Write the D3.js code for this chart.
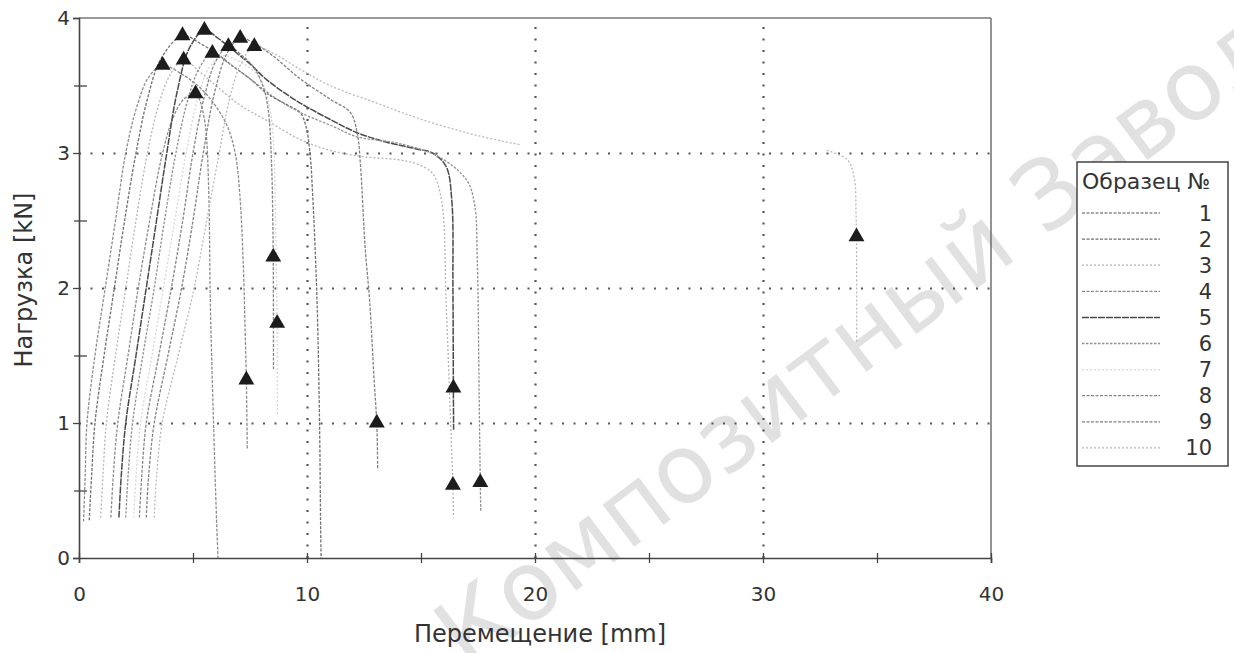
<!DOCTYPE html>
<html>
<head>
<meta charset="utf-8">
<script src="https://cdn.jsdelivr.net/npm/d3@7"></script>
<style>
  body { margin: 0; background: #fff; }
  text { font-family: "DejaVu Sans", Verdana, sans-serif; fill: #333; }
</style>
</head>
<body>
<div class="chart"></div>
<script>
// load vs displacement, 10 specimens

const width = 1234
const height = 653

// [displacement mm, load kN], null = gap in the record
const s1 = [[0.2,0.27],[0.27,0.6],[0.35,1.0],[0.7,1.5],[1.15,2.0],[1.6,2.5],[2.05,3.0],[2.55,3.35],[3.05,3.56],[3.67,3.65],
  [4.45,3.59],[5.2,3.5],[5.9,3.37],[6.5,3.2],[6.85,3.0],[7.05,2.7],[7.2,2.2],[7.3,1.6],[7.34,1.32],[7.38,0.8]]
const s2 = [[0.45,0.28],[0.55,0.6],[0.7,1.0],[1.1,1.5],[1.55,2.0],[2.0,2.5],[2.5,3.0],[3.0,3.4],[3.6,3.7],[4.54,3.87],
  [5.33,3.81],[6.1,3.73],[6.77,3.64],[7.5,3.55],[8.25,3.44],[9.2,3.35],[9.7,3.3],[9.95,3.2],[10.13,3.0],[10.26,2.65],[10.44,1.9],[10.55,1.0],[10.6,0.2],[10.62,0]]
const s3 = [[0.95,0.3],[1.05,0.6],[1.2,1.0],[1.6,1.5],[2.05,2.0],[2.5,2.5],[3.0,3.0],[3.5,3.36],[4.0,3.58],[4.59,3.69],
  [5.3,3.6],[6.07,3.49],[7.1,3.35],[8.25,3.24],[9.7,3.1],[11.0,3.02],[12.6,2.97],[14.0,2.95],[14.8,2.92],[15.5,2.85],[15.9,2.65],[16.1,1.9],[16.3,1.0],[16.4,0.54],[16.42,0.3]]
const s4 = [[1.4,0.3],[1.5,0.6],[1.7,1.0],[2.15,1.5],[2.6,2.0],[3.1,2.5],[3.6,2.95],[4.1,3.25],[4.6,3.4],[5.11,3.44],
  [5.3,3.39],[5.5,3.25],[5.6,3.1],[5.7,2.65],[5.76,1.9],[5.9,1.0],[6.05,0.2],[6.1,0]]
const s5 = [[1.75,0.3],[1.85,0.6],[2.05,1.0],[2.5,1.5],[2.95,2.0],[3.4,2.5],[3.85,3.0],[4.3,3.45],[4.85,3.78],[5.5,3.91],
  [6.1,3.85],[6.77,3.76],[7.5,3.66],[8.25,3.54],[9.7,3.37],[11.0,3.25],[12.2,3.15],[13.5,3.08],[14.8,3.03],[15.5,3.0],[16.1,2.9],[16.35,2.65],[16.4,2.0],[16.42,1.26],[16.43,0.95]]
const s6 = [[2.05,0.3],[2.15,0.6],[2.35,1.0],[2.8,1.5],[3.3,2.0],[3.75,2.5],[4.25,3.0],[4.75,3.38],[5.25,3.62],[5.85,3.74],
  [6.6,3.66],[7.5,3.55],[8.5,3.42],[9.7,3.3],[11.1,3.2],[12.2,3.12],[14.06,3.07],[15.8,2.97],[17.0,2.8],[17.35,2.62],[17.47,2.2],[17.55,1.2],[17.6,0.56],[17.62,0.35]]
const s7 = [[2.4,0.3],[2.5,0.6],[2.7,1.0],[3.2,1.5],[3.7,2.0],[4.2,2.5],[4.7,3.0],[5.2,3.4],[5.7,3.63],[6.3,3.72],
  [7.0,3.68],[7.7,3.6],[8.1,3.5],[8.4,3.3],[8.55,3.0],[8.62,2.5],[8.67,2.0],[8.69,1.74],[8.7,1.05]]
const s8 = [[2.65,0.3],[2.75,0.6],[2.95,1.0],[3.5,1.5],[4.05,2.0],[4.55,2.5],[5.0,3.0],[5.5,3.42],[6.0,3.68],[6.55,3.79],
  [7.1,3.73],[7.64,3.64],[8.08,3.49],[8.3,3.32],[8.45,2.9],[8.5,2.5],[8.52,2.23],[8.53,1.4]]
const s9 = [[2.95,0.3],[3.05,0.6],[3.3,1.0],[3.9,1.5],[4.5,2.0],[5.0,2.5],[5.45,3.0],[5.95,3.45],[6.5,3.74],[7.07,3.85],
  [7.8,3.8],[8.5,3.72],[9.7,3.55],[11.0,3.4],[11.9,3.3],[12.2,3.15],[12.35,2.9],[12.55,2.3],[12.75,1.9],[12.95,1.3],[13.06,1.0],[13.1,0.65]]
const s10 = [[3.3,0.3],[3.4,0.6],[3.65,1.0],[4.35,1.5],[5.05,2.0],[5.6,2.5],[6.15,3.0],[6.6,3.4],[7.1,3.66],[7.69,3.79],
  [8.5,3.74],[9.7,3.62],[11.0,3.5],[13.06,3.37],[15.0,3.25],[17.0,3.15],[18.5,3.09],[19.4,3.06],null,
  [32.8,3.02],[33.7,2.95],[34.0,2.82],[34.08,2.55],[34.1,2.38],[34.11,1.6]]

const specimens = [s1, s2, s3, s4, s5, s6, s7, s8, s9, s10]
const specimenNames = ['1','2','3','4','5','6','7','8','9','10']

// triangles: maximum load and break points
const peakX = [3.67, 4.54, 4.59, 5.11, 5.5, 5.85, 6.55, 7.07, 7.69]
const peakY = [3.65, 3.87, 3.69, 3.44, 3.91, 3.74, 3.79, 3.85, 3.79]
const breakX = [7.34, 8.52, 8.69, 13.06, 16.42, 16.4, 17.6, 34.1]
const breakY = [1.32, 2.23, 1.74, 1.0, 1.26, 0.54, 0.56, 2.38]

const xTicks = [0, 10, 20, 30, 40]
const xMinor = [5, 15, 25, 35]
const yTicks = [0, 1, 2, 3, 4]
const yMinor = [0.5, 1.5, 2.5, 3.5]
const gridX = [10, 20, 30]
const gridY = [1, 2, 3]

// per-specimen stroke look (scanned dotted lines)
const strokeCol = ['#8c8c8c','#6e6e6e','#b4b4b4','#8c8c8c','#4a4a4a','#909090','#d6d6d6','#858585','#808080','#b8b8b8']
const strokeDash = ['3,1.5','3,1.5','2,2','3,1.5','7,1','2.5,1.5','2,2','3,1.5','3,1.5','2,2']

const plotL = 79, plotR = 991, plotT = 18, plotB = 558

const svg = d3.select('.chart')
    .append('svg')
    .attr('width', width)
    .attr('height', height)

const x = d3.scaleLinear().domain([0, 40]).range([plotL, plotR])
const y = d3.scaleLinear().domain([0, 4]).range([plotB, plotT])

// watermark
svg.append('text')
    .attr('transform', 'translate(468,672) rotate(-37)')
    .attr('font-size', 96)
    .style('fill', '#c4c4c4')
    .attr('opacity', 0.5)
    .text('Композитный Завод')

// dotted grid
svg.append('g')
    .attr('transform', `translate(0,${plotB})`)
    .call(d3.axisBottom(x).tickValues(gridX).tickSize(-(plotB - plotT)).tickFormat(''))
    .call(g => g.select('.domain').remove())
    .call(g => g.selectAll('line').attr('stroke', '#555').attr('stroke-width', 2.2)
        .attr('stroke-dasharray', '2,9.5'))

svg.append('g')
    .attr('transform', `translate(${plotL},0)`)
    .call(d3.axisLeft(y).tickValues(gridY).tickSize(-(plotR - plotL)).tickFormat(''))
    .call(g => g.select('.domain').remove())
    .call(g => g.selectAll('line').attr('stroke', '#555').attr('stroke-width', 2.2)
        .attr('stroke-dasharray', '2,9.5'))

// frame
svg.append('line').attr('x1', plotL).attr('x2', plotR).attr('y1', plotT).attr('y2', plotT)
    .attr('stroke', '#777').attr('stroke-width', 1.6)
svg.append('line').attr('x1', plotR).attr('x2', plotR).attr('y1', plotT).attr('y2', plotB)
    .attr('stroke', '#666').attr('stroke-width', 1.4)

// curves
const line = d3.line()
    .defined(d => d !== null)
    .x(d => x(d[0]))
    .y(d => y(d[1]))
    .curve(d3.curveCatmullRom.alpha(0.5))

svg.append('g')
    .selectAll('path')
    .data(specimens)
    .enter().append('path')
      .attr('d', line)
      .attr('fill', 'none')
      .attr('stroke', (d, i) => strokeCol[i])
      .attr('stroke-width', (d, i) => i == 4 ? 1.5 : 1.3)
      .attr('stroke-dasharray', (d, i) => strokeDash[i])

// axes
const xAxis = svg.append('g')
    .attr('transform', `translate(0,${plotB})`)
    .call(d3.axisBottom(x).tickValues(xTicks).tickSize(5).tickPadding(24).tickFormat(d3.format('d')))
xAxis.select('.domain').attr('stroke', '#444').attr('stroke-width', 1.6)
svg.append('g')
    .attr('transform', `translate(0,${plotB})`)
    .call(d3.axisBottom(x).tickValues(xTicks.concat(xMinor)).tickSize(-5).tickFormat(''))
    .call(g => g.select('.domain').remove())
svg.append('g')
    .attr('transform', `translate(0,${plotB})`)
    .call(d3.axisBottom(x).tickValues(xMinor).tickSize(5).tickFormat(''))
    .call(g => g.select('.domain').remove())

const yAxis = svg.append('g')
    .attr('transform', `translate(${plotL},0)`)
    .call(d3.axisLeft(y).tickValues(yTicks).tickSize(6).tickPadding(3).tickFormat(d3.format('d')))
yAxis.select('.domain').attr('stroke', '#444').attr('stroke-width', 1.6)
svg.append('g')
    .attr('transform', `translate(${plotL},0)`)
    .call(d3.axisLeft(y).tickValues(yMinor).tickSize(5).tickFormat(''))
    .call(g => g.select('.domain').remove())
svg.append('g')
    .attr('transform', `translate(${plotL},0)`)
    .call(d3.axisLeft(y).tickValues(yMinor).tickSize(-8).tickFormat(''))
    .call(g => g.select('.domain').remove())

svg.selectAll('.tick line').filter(function() { return !this.getAttribute('stroke-dasharray') })
    .attr('stroke', '#444').attr('stroke-width', 1.3)
svg.selectAll('.tick text')
    .attr('font-size', 20)
    .attr('font-family', '"DejaVu Sans", Verdana, sans-serif')
    .style('fill', '#333')

// markers
const tri = d3.symbol().type(d3.symbolTriangle).size(110)
svg.append('g')
    .selectAll('path')
    .data(peakX.map((v, i) => [v, peakY[i]]).concat(breakX.map((v, i) => [v, breakY[i]])))
    .enter().append('path')
      .attr('d', tri)
      .attr('transform', d => `translate(${x(d[0])},${y(d[1])})`)
      .attr('fill', '#1c1c1c')

// axis titles
svg.append('text')
    .attr('x', 540)
    .attr('y', 642)
    .attr('text-anchor', 'middle')
    .attr('font-size', 24)
    .text('Перемещение [mm]')

svg.append('text')
    .attr('transform', 'translate(32,280) rotate(-90)')
    .attr('text-anchor', 'middle')
    .attr('font-size', 24)
    .text('Нагрузка [kN]')

// legend
const legend = svg.append('g')
legend.append('rect')
    .attr('x', 1077).attr('y', 162).attr('width', 151).attr('height', 304)
    .attr('fill', '#fff').attr('stroke', '#444').attr('stroke-width', 1.5)
legend.append('text')
    .attr('x', 1082).attr('y', 189)
    .attr('font-size', 22)
    .text('Образец №')

const items = legend.selectAll('.item')
    .data(specimenNames)
    .enter().append('g')
      .attr('class', 'item')
      .attr('transform', (d, i) => `translate(0,${213 + i * 26.1})`)
items.append('line')
    .attr('x1', 1082).attr('x2', 1160)
    .attr('stroke', (d, i) => strokeCol[i])
    .attr('stroke-width', (d, i) => i == 4 ? 1.5 : 1.3)
    .attr('stroke-dasharray', (d, i) => strokeDash[i])
items.append('text')
    .attr('x', 1212)
    .attr('dy', '0.36em')
    .attr('text-anchor', 'end')
    .attr('font-size', 21)
    .text(d => d)
</script>
</body>
</html>
